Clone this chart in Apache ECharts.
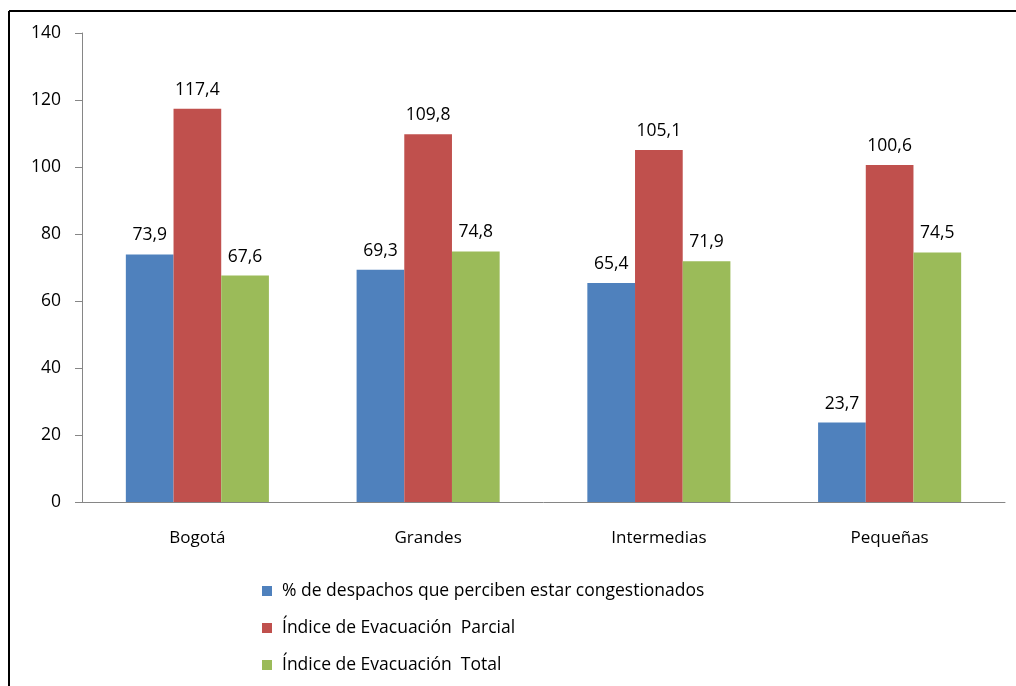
<!DOCTYPE html>
<html>
<head>
<meta charset="utf-8">
<script src="https://cdn.jsdelivr.net/npm/echarts@6/dist/echarts.min.js"></script>
<style>
  html, body { margin: 0; padding: 0; background: #fff; }
  #chart { width: 1016px; height: 686px; }
</style>
</head>
<body>
<div id="chart"></div>
<script>
// Tamaño de ciudad
const categories = ['Bogotá', 'Grandes', 'Intermedias', 'Pequeñas'];
const seriesNames = [
  '% de despachos que perciben estar congestionados',
  'Índice de Evacuación  Parcial',
  'Índice de Evacuación  Total'
];
const congestionados = [73.9, 69.3, 65.4, 23.7];
const evacuacionParcial = [117.4, 109.8, 105.1, 100.6];
const evacuacionTotal = [67.6, 74.8, 71.9, 74.5];
const yTicks = [0, 20, 40, 60, 80, 100, 120, 140];

const colors = ['#4F81BD', '#C0504D', '#9BBB59'];
const fontFamily = '"Open Sans", Lato, sans-serif';
const fmt = v => v.toFixed(1).replace('.', ',');

const chart = echarts.init(document.getElementById('chart'), null, { renderer: 'canvas' });

function barSeries(name, data, color) {
  return {
    name: name,
    type: 'bar',
    data: data,
    barGap: '0%',
    barCategoryGap: '38%',
    itemStyle: { color: color },
    label: {
      show: true,
      position: 'top',
      distance: 10,
      color: '#000',
      fontFamily: fontFamily,
      fontSize: 17.5,
      formatter: p => fmt(p.value)
    }
  };
}

chart.setOption({
  animation: false,
  backgroundColor: '#fff',
  color: colors,
  grid: { left: 82, right: 11, top: 33, bottom: 184, containLabel: false },
  legend: {
    orient: 'vertical',
    left: 262,
    top: 581,
    padding: 0,
    itemWidth: 10,
    itemHeight: 10,
    itemGap: 17,
    icon: 'rect',
    textStyle: {
      color: '#000', fontFamily: fontFamily, fontSize: 17.5,
      lineHeight: 20, padding: [0, 0, 0, 5]
    },
    data: seriesNames
  },
  xAxis: {
    type: 'category',
    data: categories,
    axisLine: { lineStyle: { color: '#868686', width: 1 } },
    axisTick: { show: false },
    axisLabel: { color: '#000', fontFamily: fontFamily, fontSize: 17, margin: 28 }
  },
  yAxis: {
    type: 'value',
    min: yTicks[0],
    max: yTicks[yTicks.length - 1],
    interval: yTicks[1] - yTicks[0],
    axisLine: { show: true, lineStyle: { color: '#868686', width: 1 } },
    axisTick: { show: true, length: 7, lineStyle: { color: '#868686' } },
    splitLine: { show: false },
    axisLabel: { color: '#000', fontFamily: fontFamily, fontSize: 17.5, margin: 21 }
  },
  graphic: [
    { type: 'line', shape: { x1: 9, y1: 11, x2: 1016, y2: 11 }, style: { stroke: '#000', lineWidth: 2 } },
    { type: 'line', shape: { x1: 9, y1: 11, x2: 9, y2: 686 }, style: { stroke: '#000', lineWidth: 2 } }
  ],
  series: [
    barSeries(seriesNames[0], congestionados, colors[0]),
    barSeries(seriesNames[1], evacuacionParcial, colors[1]),
    barSeries(seriesNames[2], evacuacionTotal, colors[2])
  ]
});
</script>
</body>
</html>
